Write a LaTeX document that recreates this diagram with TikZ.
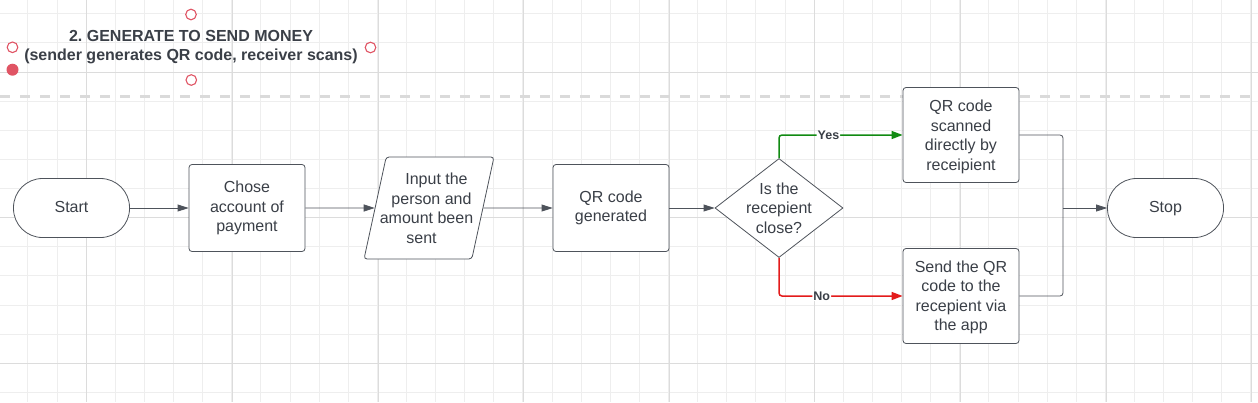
\documentclass[tikz,border=0pt]{standalone}
\usepackage{fontspec}
\setmainfont{Liberation Sans}
\usetikzlibrary{shapes.geometric,arrows.meta}
\definecolor{txt}{HTML}{3A3F47}
\definecolor{edge}{HTML}{4E535B}
\definecolor{gridminor}{HTML}{EEEEEE}
\definecolor{gridmajor}{HTML}{DCDCDC}
\definecolor{dashc}{HTML}{DADADA}
\definecolor{yesc}{HTML}{118A12}
\definecolor{noc}{HTML}{E31B1B}
\definecolor{handle}{HTML}{E05464}
\tikzset{
  base/.style={draw=edge, line width=0.8pt, fill=white, text=txt, align=center,
    font=\fontsize{16}{19.5}\selectfont, inner sep=0pt},
  plaintext/.style={text=txt, align=center, font=\fontsize{16}{19.5}\selectfont, inner sep=0pt},
  term/.style={base, rounded corners=29pt, minimum width=116pt, minimum height=59pt,
    text height=11.5pt, text depth=3.4pt},
  procbox/.style={base, rounded corners=3pt, minimum width=116pt},
  iobox/.style={base, trapezium, trapezium left angle=76, trapezium right angle=104,
    trapezium stretches=true, rounded corners=3pt, inner sep=2pt, minimum width=130pt, minimum height=102pt},
  decide/.style={base, diamond, inner sep=2pt, minimum width=128pt, minimum height=99pt},
  flow/.style={draw=edge, line width=0.8pt, -{Triangle[length=11pt,width=7pt]}},
  yesflow/.style={draw=yesc, line width=1.5pt, rounded corners=3pt, -{Triangle[length=11pt,width=8pt]}},
  noflow/.style={draw=noc, line width=1.5pt, rounded corners=3pt, -{Triangle[length=11pt,width=8pt]}},
  elabel/.style={fill=white, text=txt, font=\bfseries\fontsize{12.5}{14}\selectfont, inner sep=1pt},
  hcirc/.style={draw=handle, line width=1.1pt, fill=white},
}
\begin{document}
\begin{tikzpicture}[x=1pt,y=-1pt]
\useasboundingbox (0,0) rectangle (1258,402);
% grid
\foreach \k in {0,...,44} {
  \draw[gridminor, line width=0.8pt] ({-1.3+29.12*\k},0) -- ({-1.3+29.12*\k},402);
}
\foreach \k in {0,...,13} {
  \draw[gridminor, line width=0.8pt] (0,{13.76+29.12*\k}) -- (1258,{13.76+29.12*\k});
}
\foreach \k in {0,...,8} {
  \draw[gridmajor, line width=0.9pt] ({86.9+145.6*\k},0) -- ({86.9+145.6*\k},402);
}
\foreach \k in {0,...,2} {
  \draw[gridmajor, line width=0.9pt] (0,{72+145.6*\k}) -- (1258,{72+145.6*\k});
}
% dashed separator
\draw[dashc, line width=3pt, dash pattern=on 10pt off 10pt] (0,96.3) -- (1258,96.3);

% title
\node[text=txt, align=center, font=\bfseries\fontsize{16}{19}\selectfont] (title) at (191,47.5)
  {2.\ GENERATE TO SEND MONEY\\(sender generates QR code, receiver scans)};
% selection handles
\draw[hcirc] (191,14.5) circle (5.3);
\draw[hcirc] (12.5,47.3) circle (5.3);
\draw[hcirc] (370.5,47.5) circle (5.3);
\draw[hcirc] (191.3,80) circle (5.3);
\fill[handle] (12.5,69.7) circle (6);

% nodes
\node[term] (start) at (71.5,208) {Start};
\node[procbox, minimum height=87pt] (chose) at (247,208) {Chose\\account of\\payment};
\node[iobox] (input) at (429,208) {\phantom{x}};
\node[plaintext] (inputtext) at (429,208.5)
  {\hspace*{15pt}Input the\\\hspace*{5pt}person and\\amount been\hspace*{5pt}\null\\sent\hspace*{15pt}\null};
\node[procbox, minimum height=87pt] (gen) at (611,208) {QR code\\generated};
\node[decide] (dec) at (779,208) {\phantom{x}};
\node[plaintext] (dectext) at (779,208) {Is the\\recepient\\close?};
\node[procbox, minimum height=95pt] (scan) at (961,135) {};
\node[plaintext] (scantext) at (961,137) {QR code\\scanned\\directly by\\receipient};
\node[procbox, minimum height=95pt] (send) at (961,296) {};
\node[plaintext] (sendtext) at (961,297.5) {Send the QR\\code to the\\recepient via\\the app};
\node[term] (stop) at (1165.5,208) {Stop};
\coordinate (join) at (1063,208);

% connectors
\draw[flow] (start) -- (chose);
\draw[flow] (chose) -- (input);
\draw[flow] (input) -- (gen);
\draw[flow] (gen) -- (dec);
\draw[yesflow] (dec.north) |- node[elabel, pos=0.70] {Yes} (scan.west);
\draw[noflow] (dec.south) |- node[elabel, pos=0.673] {No} (send.west);
\draw[edge, line width=0.8pt, rounded corners=3pt] (scan.east) -| (join);
\draw[edge, line width=0.8pt, rounded corners=3pt] (send.east) -| (join);
\draw[flow] (join) -- (stop);
\end{tikzpicture}
\end{document}
